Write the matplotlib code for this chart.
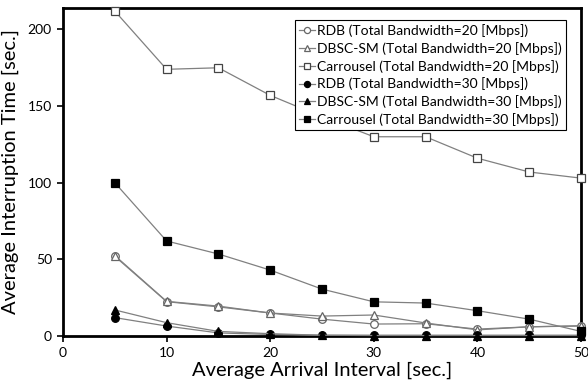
import numpy as np
import matplotlib.pyplot as plt

plt.rcParams['font.family'] = ['Lato', 'DejaVu Sans']

# data
interval = [5, 10, 15, 20, 25, 30, 35, 40, 45, 50]

rdb_20 = [52, 22.4, 19, 15, 11, 7.8, 8, 4.5, 6, 6.7]
dbsc_20 = [52.5, 22.6, 19.5, 15, 13, 13.7, 8.5, 4, 6, 6.5]
carr_20 = [212, 174, 175, 157, 143, 130, 130, 116, 107, 103]
rdb_30 = [12, 6.5, 2, 1, 0.5, 0.5, 0.5, 0.5, 0.5, 0.5]
dbsc_30 = [17, 8.7, 3, 1.5, 0.5, 0.3, 0.3, 0.3, 0.3, 0.3]
carr_30 = [100, 62, 53.5, 43, 30.6, 22.3, 21.5, 16.5, 11, 3]

labels = ["RDB (Total Bandwidth=20 [Mbps])",
          "DBSC-SM (Total Bandwidth=20 [Mbps])",
          "Carrousel (Total Bandwidth=20 [Mbps])",
          "RDB (Total Bandwidth=30 [Mbps])",
          "DBSC-SM (Total Bandwidth=30 [Mbps])",
          "Carrousel (Total Bandwidth=30 [Mbps])"]

fig = plt.figure(figsize=(5.88, 3.87), dpi=100)
ax = fig.add_axes([63/588, 51/387, 518/588, 328/387])

series = [rdb_20, dbsc_20, carr_20, rdb_30, dbsc_30, carr_30]
markers = ['o', '^', 's', 'o', '^', 's']
fills = ['white', 'white', 'white', 'black', 'black', 'black']
medges = ['#666666', '#666666', '#444444', 'black', 'black', 'black']

for y, m, fc, ec, lab in zip(series, markers, fills, medges, labels):
    ax.plot(interval, y, color='#808080', lw=0.9, marker=m, ms=5.5,
            mfc=fc, mec=ec, mew=0.9, label=lab, clip_on=False, zorder=3)

ax.set_xlim(0, 50)
ax.set_ylim(0, 214)
ax.set_xticks([0, 10, 20, 30, 40, 50])
ax.set_yticks([0, 50, 100, 150, 200])
ax.tick_params(direction='out', length=4, width=1.2, labelsize=10, pad=4)
for s in ax.spines.values():
    s.set_linewidth(2)

ax.set_xlabel("Average Arrival Interval [sec.]", fontsize=14.5, labelpad=2)
ax.set_ylabel("Average Interruption Time [sec.]", fontsize=14.5, labelpad=6)

leg = ax.legend(loc='upper right', bbox_to_anchor=(0.985, 0.985), fontsize=10,
                handlelength=1.1, handletextpad=0.2, borderpad=0.3,
                labelspacing=0.35, fancybox=False, framealpha=1,
                edgecolor='black', markerscale=0.8)
leg.get_frame().set_linewidth(0.8)

fig.savefig("out.png", dpi=100)
